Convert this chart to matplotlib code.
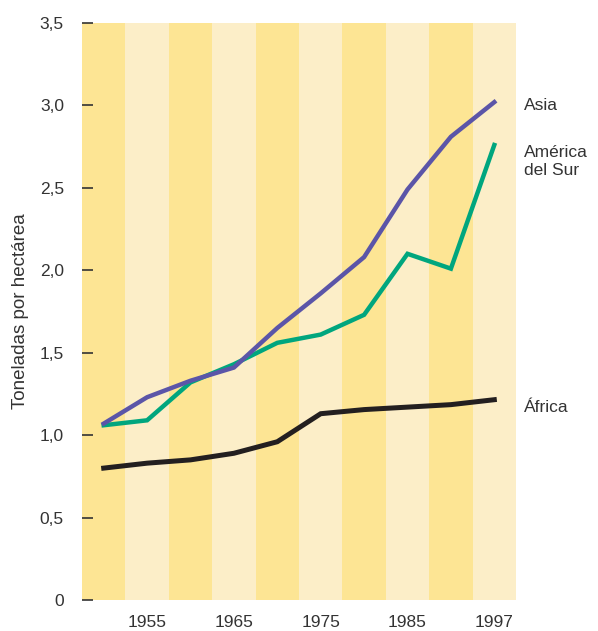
import matplotlib
matplotlib.use("Agg")
import matplotlib.pyplot as plt

years = ["1950", "1955", "1960", "1965", "1970", "1975", "1980", "1985", "1990", "1997"]
tick_labels = ["", "1955", "", "1965", "", "1975", "", "1985", "", "1997"]
asia = [1.07, 1.23, 1.33, 1.41, 1.65, 1.86, 2.08, 2.49, 2.81, 3.02]
sudamerica = [1.06, 1.09, 1.32, 1.43, 1.56, 1.61, 1.73, 2.10, 2.01, 2.76]
africa = [0.80, 0.83, 0.85, 0.89, 0.96, 1.13, 1.155, 1.17, 1.185, 1.215]
yticks = [0, 0.5, 1.0, 1.5, 2.0, 2.5, 3.0, 3.5]
ytick_labels = ["0", "0,5", "1,0", "1,5", "2,0", "2,5", "3,0", "3,5"]

plt.rcParams['font.family'] = ['Liberation Sans', 'DejaVu Sans']

fig = plt.figure(figsize=(5.98, 6.31), dpi=100)
ax = fig.add_axes([82/598, 31/631, 434/598, 577/631])

dark = "#FDE594"
light = "#FCEEC8"
n = len(years)
for i in range(n):
    ax.axvspan(i - 0.5, i + 0.5, color=dark if i % 2 == 0 else light, lw=0, zorder=0)

x = list(range(n))
ax.plot(x, africa, color="#231F20", lw=3.6, solid_joinstyle="miter", zorder=3)
ax.plot(x, sudamerica, color="#00A67E", lw=3.2, solid_joinstyle="miter", zorder=3)
ax.plot(x, asia, color="#5B55A8", lw=3.2, solid_joinstyle="miter", zorder=4)

ax.set_xlim(-0.5, n - 0.5)
ax.set_ylim(0, 3.5)
ax.set_yticks(yticks)
ax.set_yticklabels(ytick_labels)
ax.set_xticks(x)
ax.set_xticklabels(tick_labels)
for s in ax.spines.values():
    s.set_visible(False)
ax.tick_params(axis='y', direction='in', length=8, width=1.2, color="#333333",
               labelsize=12.5, labelcolor="#333333", pad=13)
ax.tick_params(axis='x', length=0, labelsize=12.5, labelcolor="#333333", pad=11)
ax.set_ylabel("Toneladas por hectárea", fontsize=13.5, color="#333333", labelpad=8)

lab_kw = dict(fontsize=12.5, color="#333333", ha="left", va="center",
              transform=ax.transData, clip_on=False)
ax.text(n - 0.5 + 0.19, 3.0, "Asia", **lab_kw)
ax.text(n - 0.5 + 0.19, 2.66, "América\ndel Sur", linespacing=1.2, **lab_kw)
ax.text(n - 0.5 + 0.19, 1.17, "África", **lab_kw)

fig.savefig("out.png", dpi=100)
